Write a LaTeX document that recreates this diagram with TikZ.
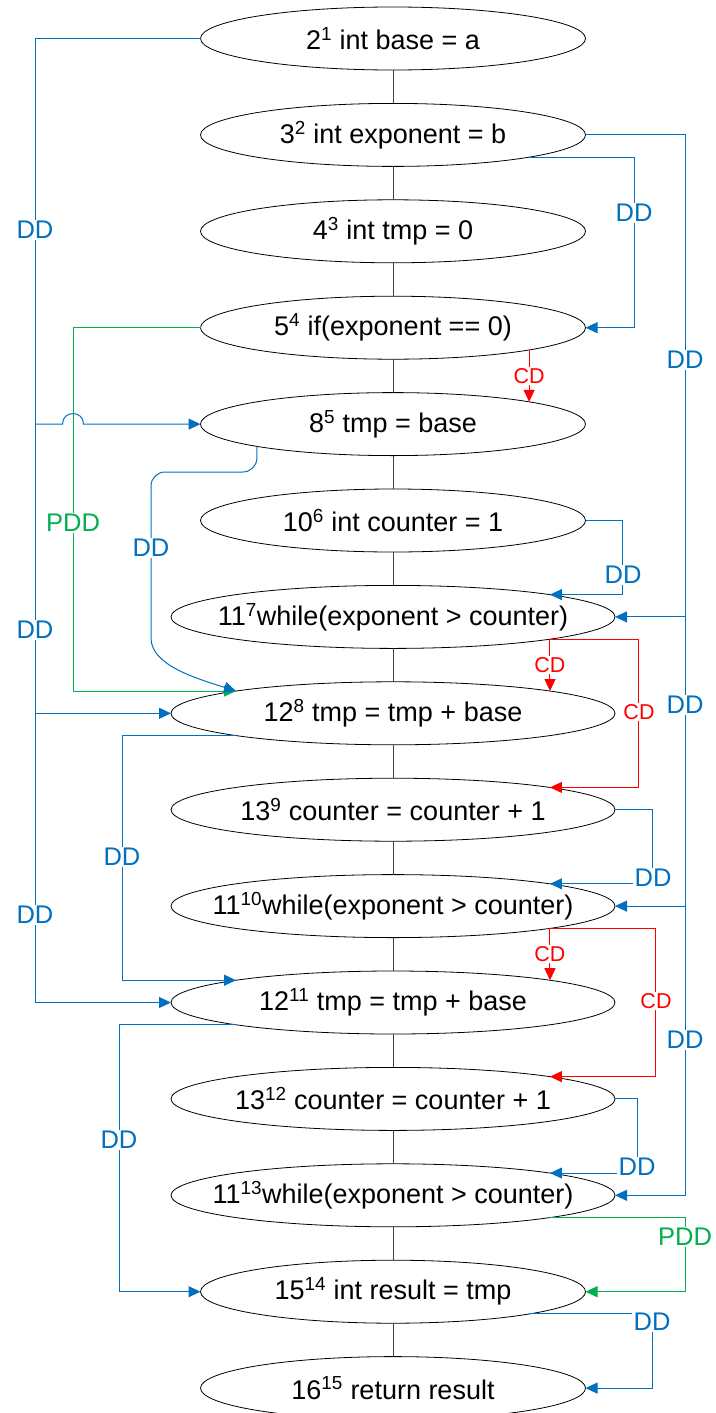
\documentclass[tikz,border=0pt]{standalone}
\usepackage{fontspec}
\setmainfont{Liberation Sans}
\usetikzlibrary{shapes.geometric,arrows.meta}
\definecolor{ddblue}{RGB}{0,112,192}
\definecolor{cdred}{RGB}{255,0,0}
\definecolor{pddgreen}{RGB}{0,176,80}
\definecolor{flowgray}{RGB}{64,64,64}

\begin{document}
\begin{tikzpicture}[x=1pt,y=-1pt,
    stmt/.style={ellipse,draw,line width=0.8pt,minimum width=385pt,minimum height=63pt,
      inner xsep=-60pt,inner ysep=0pt,outer sep=0pt,font=\fontsize{27}{32}\selectfont},
    wide/.style={minimum width=444pt},
    flow/.style={draw=flowgray,line width=0.9pt},
    filltip/.style={-{Triangle[length=12pt,width=11pt]}},
    dd/.style={draw=ddblue,line width=1pt,filltip},
    cd/.style={draw=cdred,line width=1pt,filltip},
    pdd/.style={draw=pddgreen,line width=1pt,filltip},
    ddlab/.style={fill=white,inner sep=1.5pt,text=ddblue,font=\fontsize{25.5}{30}\selectfont},
    cdlab/.style={fill=white,inner sep=1.5pt,text=cdred,font=\fontsize{21.5}{26}\selectfont},
    pddlab/.style={fill=white,inner sep=1.5pt,text=pddgreen,font=\fontsize{25.5}{30}\selectfont}]
			\useasboundingbox (0,0) rectangle (715,1413);

			\node[stmt] (s1) at (393,38.5) {2\textsuperscript{1} int base = a};
			\node[stmt] (s2) at (393,134.9) {3\textsuperscript{2} int exponent = b};
			\node[stmt] (s3) at (393,231.3) {4\textsuperscript{3} int tmp = 0};
			\node[stmt] (s4) at (393,327.7) {5\textsuperscript{4} if(exponent == 0)};
			\node[stmt] (s5) at (393,424.1) {8\textsuperscript{5} tmp = base};
			\node[stmt] (s6) at (393,520.5) {10\textsuperscript{6} int counter = 1};
			\node[stmt,wide] (s7) at (393,616.9) {11\textsuperscript{7}while(exponent > counter)};
			\node[stmt,wide] (s8) at (393,713.3) {12\textsuperscript{8} tmp = tmp + base};
			\node[stmt,wide] (s9) at (393,809.7) {13\textsuperscript{9} counter = counter + 1};
			\node[stmt,wide] (s10) at (393,906.1) {11\textsuperscript{10}while(exponent > counter)};
			\node[stmt,wide] (s11) at (393,1002.5) {12\textsuperscript{11} tmp = tmp + base};
			\node[stmt,wide] (s12) at (393,1098.9) {13\textsuperscript{12} counter = counter + 1};
			\node[stmt,wide] (s13) at (393,1195.3) {11\textsuperscript{13}while(exponent > counter)};
			\node[stmt] (s14) at (393,1291.7) {15\textsuperscript{14} int result = tmp};
			\node[stmt] (s15) at (393,1388.1) {16\textsuperscript{15} return result};

			\draw[flow] (s1) -- (s2) (s2) -- (s3) (s3) -- (s4) (s4) -- (s5) (s5) -- (s6)
				(s6) -- (s7) (s7) -- (s8) (s8) -- (s9) (s9) -- (s10) (s10) -- (s11)
				(s11) -- (s12) (s12) -- (s13) (s13) -- (s14) (s14) -- (s15);

			\coordinate (lt) at (35,0);
			\coordinate (rt) at (685,0);
			\coordinate (pg) at (73,0);

			% base
			\draw[dd] (s1.west) -| (lt |- s11.west) -- (s11.west);
			\draw[dd] (lt |- s8.west) -- (s8.west);
			\draw[dd] (lt |- s5.west) -- (62.5,424.1) .. controls (62.5,410) and (83.5,410) .. (83.5,424.1) -- (s5.west);
			\node[ddlab] (dl1) at (35,230) {DD};
			\node[ddlab] (dl2) at (35,630) {DD};
			\node[ddlab] (dl3) at (35,915) {DD};

			% exponent
			\draw[dd] (s2.east) -| (rt |- s13.east) -- (s13.east);
			\draw[dd] (rt |- s7.east) -- (s7.east);
			\draw[dd] (rt |- s10.east) -- (s10.east);
			\node[ddlab] (dr1) at (685,360) {DD};
			\node[ddlab] (dr2) at (685,705) {DD};
			\node[ddlab] (dr3) at (685,1040) {DD};

			\draw[dd] (s2.south east) -| ([xshift=49pt]s4.east) -- (s4.east);
			\node[ddlab] (d24) at (634,213) {DD};

			% if
			\draw[cd] (s4.south east) -- node[cdlab] (c45) {CD} (s5.north east);
			\draw[pdd] (s4.west) -| (pg |- s8.north west) -- (s8.north west);
			\node[pddlab] (p48) at (73,523) {PDD};

			% tmp = base
			\draw[dd,rounded corners=14pt] (s5.south west) |- (151,472) -- (151,624)
				[sharp corners] .. controls (151,665) and (195,678) .. (s8.north west);
			\node[ddlab] (d58) at (151,548) {DD};

			% counter
			\draw[dd] (s6.east) -| ([xshift=73pt]s7.north east) -- (s7.north east);
			\node[ddlab] (d67) at (623,575) {DD};

			% first loop pass
			\draw[cd] (s7.south east) -- node[cdlab] (c78) {CD} (s8.north east);
			\draw[cd] (s7.south east) -| ([xshift=89pt]s9.north east) -- (s9.north east);
			\node[cdlab] (c79) at (639,712) {CD};
			\draw[dd] (s8.south west) -| ([xshift=-114pt]s11.north west) -- (s11.north west);
			\node[ddlab] (d811) at (122,857) {DD};
			\draw[dd] (s9.east) -| ([xshift=103pt]s10.north east) -- (s10.north east);
			\node[ddlab] (d910) at (653,878) {DD};

			% second loop pass
			\draw[cd] (s10.south east) -- node[cdlab] (c1011) {CD} (s11.north east);
			\draw[cd] (s10.south east) -| ([xshift=106pt]s12.north east) -- (s12.north east);
			\node[cdlab] (c1012) at (656,1001) {CD};
			\draw[dd] (s11.south west) -| ([xshift=-81.5pt]s14.west) -- (s14.west);
			\node[ddlab] (d1114) at (119,1140) {DD};
			\draw[dd] (s12.east) -| ([xshift=88pt]s13.north east) -- (s13.north east);
			\node[ddlab] (d1213) at (637,1167) {DD};

			% result
			\draw[pdd] (s13.south east) -| (rt |- s14.east) -- (s14.east);
			\node[pddlab] (p1314) at (685,1237) {PDD};
			\draw[dd] (s14.south east) -| ([xshift=67pt]s15.east) -- (s15.east);
			\node[ddlab] (d1415) at (652,1322) {DD};
		\end{tikzpicture}
\end{document}
